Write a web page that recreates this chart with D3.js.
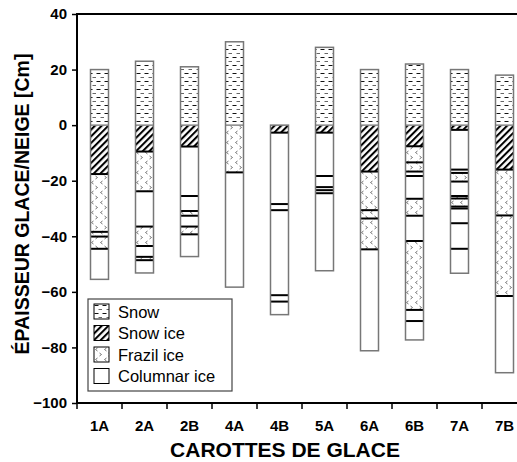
<!DOCTYPE html>
<html>
<head>
<meta charset="utf-8">
<script src="https://cdn.jsdelivr.net/npm/d3@7"></script>
<style>
  body { margin: 0; background: #fff; }
  svg { display: block; font-family: Arial, "Liberation Sans", sans-serif; }
</style>
</head>
<body>
<div class="chart"></div>
<script>
// ice cores (x axis)
var cores = ["1A", "2A", "2B", "4A", "4B", "5A", "6A", "6B", "7A", "7B"];

// snow on top of the ice (cm, above 0)
var snowTop = [20, 23, 21, 30, 0, 28, 20, 22, 20, 18];

// layers below 0, top to bottom: [type, bottom depth in cm]
var iceLayers = [
  [["snowice", -17.6], ["frazil", -38.4], ["frazil", -40.1], ["frazil", -44.5], ["columnar", -55.5]],
  [["snowice", -9.5], ["frazil", -23.8], ["columnar", -36.5], ["frazil", -43.5], ["columnar", -47.4], ["frazil", -48.6], ["columnar", -53.2]],
  [["snowice", -7.7], ["columnar", -25.5], ["columnar", -30.9], ["frazil", -32.6], ["columnar", -36.5], ["frazil", -39.3], ["columnar", -47.3]],
  [["frazil", -17], ["columnar", -58.3]],
  [["snowice", -2.7], ["columnar", -28.4], ["columnar", -30.6], ["columnar", -61.2], ["columnar", -63.5], ["columnar", -68.2]],
  [["snowice", -2.7], ["columnar", -18.3], ["columnar", -22.3], ["columnar", -23.4], ["columnar", -24.5], ["columnar", -52.4]],
  [["snowice", -16.7], ["frazil", -30.6], ["frazil", -33.6], ["frazil", -44.7], ["columnar", -81.2]],
  [["snowice", -7.6], ["frazil", -13.4], ["frazil", -16.7], ["columnar", -18.3], ["columnar", -26.5], ["frazil", -32.6], ["columnar", -41.7], ["frazil", -66.5], ["columnar", -70.5], ["columnar", -77.3]],
  [["snowice", -1.7], ["columnar", -16], ["columnar", -17.2], ["frazil", -20.3], ["columnar", -25.5], ["frazil", -26.4], ["frazil", -29.3], ["columnar", -30], ["columnar", -35.3], ["columnar", -44.5], ["columnar", -53.3]],
  [["snowice", -16], ["frazil", -32.5], ["frazil", -61.5], ["columnar", -89.1]]
];

var yTicks = [40, 20, 0, -20, -40, -60, -80, -100];

var legendItems = [["snow", "Snow"], ["snowice", "Snow ice"], ["frazil", "Frazil ice"], ["columnar", "Columnar ice"]];

var width = 517, height = 462;
var plotLeft = 77, plotRight = 527, plotTop = 14, plotBottom = 403;

var svg = d3.select(".chart").append("svg")
    .attr("width", width)
    .attr("height", height);

// fill patterns
var defs = svg.append("defs");

var pSnow = defs.append("pattern")
    .attr("id", "p-snow")
    .attr("patternUnits", "userSpaceOnUse")
    .attr("width", 8).attr("height", 8);
pSnow.append("rect").attr("width", 8).attr("height", 8).attr("fill", "#fff");
pSnow.append("line").attr("x1", 0.5).attr("x2", 4.5).attr("y1", 1.5).attr("y2", 1.5)
    .attr("stroke", "#111").attr("stroke-width", 1);
pSnow.append("line").attr("x1", 4.5).attr("x2", 8.5).attr("y1", 5.5).attr("y2", 5.5)
    .attr("stroke", "#666").attr("stroke-width", 1);

var pIce = defs.append("pattern")
    .attr("id", "p-snowice")
    .attr("patternUnits", "userSpaceOnUse")
    .attr("width", 4.7).attr("height", 4.7)
    .attr("patternTransform", "rotate(45)");
pIce.append("rect").attr("width", 4.7).attr("height", 4.7).attr("fill", "#fff");
pIce.append("line").attr("x1", 1).attr("x2", 1).attr("y1", 0).attr("y2", 4.7)
    .attr("stroke", "#000").attr("stroke-width", 2.1);

var pFrazil = defs.append("pattern")
    .attr("id", "p-frazil")
    .attr("patternUnits", "userSpaceOnUse")
    .attr("width", 9).attr("height", 10);
pFrazil.append("rect").attr("width", 9).attr("height", 10).attr("fill", "#fff");
pFrazil.append("path").attr("d", "M3.5,1 L1.5,2.5 L3.5,4")
    .attr("fill", "none").attr("stroke", "#666").attr("stroke-width", 0.9);
pFrazil.append("path").attr("d", "M5.5,6 L7.5,7.5 L5.5,9")
    .attr("fill", "none").attr("stroke", "#666").attr("stroke-width", 0.9);

function fillOf(t) {
  return t === "columnar" ? "#fff" : "url(#p-" + t + ")";
}

var x = d3.scaleBand()
    .domain(cores)
    .range([plotLeft, plotRight])
    .paddingInner(0.6)
    .paddingOuter(0.3);

var y = d3.scaleLinear()
    .domain([-100, 40])
    .range([plotBottom, plotTop]);

// build segment lists
var coreData = cores.map(function(c, i) {
  var segs = [];
  if (snowTop[i] > 0) segs.push({ type: "snow", top: snowTop[i], bottom: 0 });
  var prev = 0;
  iceLayers[i].forEach(function(l) {
    segs.push({ type: l[0], top: prev, bottom: l[1] });
    prev = l[1];
  });
  return { core: c, segs: segs, top: snowTop[i], bottom: prev };
});

var g = svg.append("g");

var core = g.selectAll(".core")
    .data(coreData)
    .enter().append("g")
    .attr("class", "core");

core.selectAll("rect.seg")
    .data(function(d) { return d.segs.map(function(s) { s.core = d.core; return s; }); })
    .enter().append("rect")
    .attr("class", "seg")
    .attr("x", function(d) { return x(d.core); })
    .attr("width", x.bandwidth())
    .attr("y", function(d) { return y(d.top); })
    .attr("height", function(d) { return y(d.bottom) - y(d.top); })
    .attr("fill", function(d) { return fillOf(d.type); });

// boundaries between layers
core.selectAll("line.bound")
    .data(function(d) {
      return d.segs.slice(0, -1).map(function(s) { return { core: d.core, v: s.bottom }; });
    })
    .enter().append("line")
    .attr("class", "bound")
    .attr("x1", function(d) { return x(d.core); })
    .attr("x2", function(d) { return x(d.core) + x.bandwidth(); })
    .attr("y1", function(d) { return y(d.v); })
    .attr("y2", function(d) { return y(d.v); })
    .attr("stroke", function(d) { return d.v === 0 ? "#888" : "#000"; })
    .attr("stroke-width", function(d) { return d.v === 0 ? 1.5 : 2; });

core.append("rect")
    .attr("x", function(d) { return x(d.core); })
    .attr("width", x.bandwidth())
    .attr("y", function(d) { return y(d.top); })
    .attr("height", function(d) { return y(d.bottom) - y(d.top); })
    .attr("fill", "none")
    .attr("stroke", "#777")
    .attr("stroke-width", 1.5);

// frame
svg.append("rect")
    .attr("x", plotLeft).attr("y", plotTop)
    .attr("width", plotRight - plotLeft).attr("height", plotBottom - plotTop)
    .attr("fill", "none")
    .attr("stroke", "#000")
    .attr("stroke-width", 2);

// y axis
var yAxis = svg.append("g")
    .attr("transform", "translate(" + plotLeft + ",0)")
    .call(d3.axisLeft(y).tickValues(yTicks).tickSize(5).tickPadding(5));
yAxis.select(".domain").remove();
yAxis.selectAll(".tick line").attr("stroke", "#000").attr("stroke-width", 1.5);
yAxis.selectAll(".tick text")
    .attr("fill", "#000")
    .style("font-size", "15px")
    .style("font-weight", "bold")
    .style("font-family", "Arial, 'Liberation Sans', sans-serif");

// x axis: labels centred in bands, ticks at band boundaries
var xAxis = svg.append("g")
    .attr("transform", "translate(0," + plotBottom + ")")
    .call(d3.axisBottom(x).tickSize(0).tickPadding(17));
xAxis.select(".domain").remove();
xAxis.selectAll(".tick text")
    .attr("fill", "#000")
    .style("font-size", "15px")
    .style("font-weight", "bold")
    .style("font-family", "Arial, 'Liberation Sans', sans-serif");

var half = (x.step() - x.bandwidth()) / 2;
svg.append("g").selectAll("line")
    .data(cores)
    .enter().append("line")
    .attr("x1", function(d) { return x(d) - half; })
    .attr("x2", function(d) { return x(d) - half; })
    .attr("y1", plotBottom)
    .attr("y2", plotBottom + 6)
    .attr("stroke", "#000")
    .attr("stroke-width", 1.5);

// axis titles
svg.append("text")
    .attr("x", 285)
    .attr("y", 457)
    .attr("text-anchor", "middle")
    .style("font-size", "21px")
    .style("font-weight", "bold")
    .text("CAROTTES DE GLACE");

svg.append("text")
    .attr("transform", "translate(29,204) rotate(-90)")
    .attr("text-anchor", "middle")
    .style("font-size", "19.5px")
    .style("font-weight", "bold")
    .text("ÉPAISSEUR GLACE/NEIGE [Cm]");

// legend
var lg = svg.append("g").attr("transform", "translate(88,299)");
lg.append("rect")
    .attr("width", 144).attr("height", 92)
    .attr("fill", "#fff")
    .attr("stroke", "#444")
    .attr("stroke-width", 1.2);

var item = lg.selectAll(".item")
    .data(legendItems)
    .enter().append("g")
    .attr("class", "item")
    .attr("transform", function(d, i) { return "translate(6," + (5 + i * 21.5) + ")"; });

item.append("rect")
    .attr("width", 15).attr("height", 15)
    .attr("fill", function(d) { return fillOf(d[0]); })
    .attr("stroke", "#000")
    .attr("stroke-width", 1);

item.append("text")
    .attr("x", 24)
    .attr("y", 13.5)
    .style("font-size", "16.5px")
    .text(function(d) { return d[1]; });
</script>
</body>
</html>
